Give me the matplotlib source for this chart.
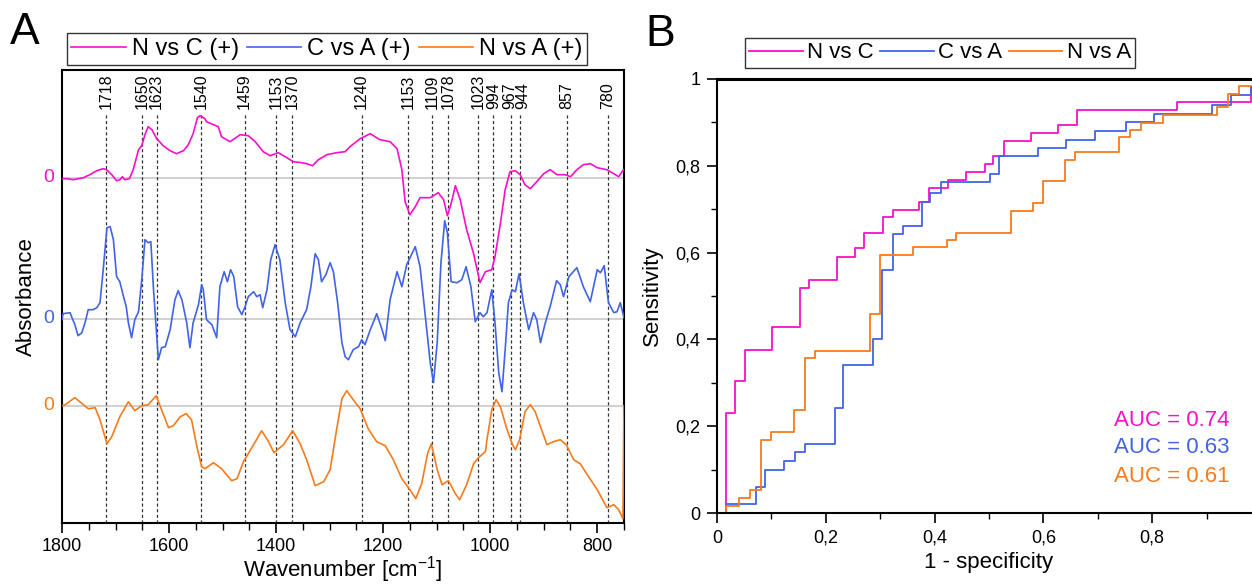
import matplotlib
matplotlib.use('Agg')
import matplotlib.pyplot as plt
import matplotlib.transforms as mtransforms
from matplotlib.ticker import MultipleLocator, FuncFormatter
import numpy as np

plt.rcParams['font.family'] = ['Liberation Sans', 'DejaVu Sans']
plt.rcParams['mathtext.default'] = 'regular'

# barvy
magenta = '#f80fc8'
blue = '#4163e6'
orange = '#f77b1c'

# --- panel A: rozdilova spektra (hodnoty v libovolnych jednotkach) ---
ncWn = [1800, 1791, 1779, 1760, 1748, 1735, 1723, 1717, 1707, 1698, 1692, 1687, 1683, 1674, 1667,
        1657, 1651, 1645, 1639, 1632, 1623, 1611, 1598, 1586, 1573, 1564, 1555, 1547, 1542, 1533,
        1530, 1517, 1508, 1502, 1486, 1467, 1452, 1439, 1424, 1411, 1396, 1383, 1368, 1352, 1343,
        1332, 1321, 1305, 1287, 1271, 1262, 1243, 1224, 1206, 1187, 1174, 1165, 1159, 1150, 1140,
        1131, 1112, 1097, 1087, 1080, 1073, 1065, 1056, 1044, 1031, 1019, 1009, 997, 991, 981,
        972, 963, 953, 944, 935, 925, 913, 900, 888, 875, 860, 850, 838, 826, 813, 800, 782,
        769, 760, 751]
ncVal = [-0.01, -0.01, -0.02, 0.00, 0.03, 0.07, 0.09, 0.08, 0.03, -0.03, -0.02, 0.01, -0.02, -0.01, 0.08,
         0.28, 0.32, 0.43, 0.51, 0.48, 0.39, 0.32, 0.27, 0.24, 0.27, 0.33, 0.44, 0.60, 0.62, 0.59,
         0.56, 0.53, 0.51, 0.41, 0.36, 0.43, 0.42, 0.36, 0.26, 0.22, 0.25, 0.21, 0.16, 0.15, 0.14,
         0.12, 0.18, 0.23, 0.25, 0.26, 0.31, 0.39, 0.44, 0.38, 0.36, 0.29, 0.08, -0.24, -0.37, -0.29,
         -0.20, -0.20, -0.15, -0.22, -0.38, -0.26, -0.08, -0.22, -0.52, -0.76, -1.05, -0.94, -0.92, -0.79, -0.46,
         -0.12, 0.06, 0.07, 0.03, -0.07, -0.11, -0.04, 0.04, 0.08, 0.03, 0.03, 0.01, 0.08, 0.13, 0.14, 0.10, 0.08,
         0.04, 0.01, 0.08]

caWn = [1800, 1798, 1785, 1776, 1770, 1763, 1757, 1751, 1742, 1735, 1729, 1723, 1716, 1710, 1704,
        1698, 1692, 1685, 1680, 1676, 1670, 1664, 1657, 1651, 1645, 1639, 1634, 1629, 1623, 1620,
        1614, 1607, 1598, 1589, 1583, 1576, 1567, 1561, 1555, 1545, 1539, 1536, 1530, 1520, 1511,
        1505, 1497, 1491, 1485, 1479, 1472, 1464, 1458, 1452, 1442, 1436, 1430, 1425, 1417, 1410,
        1402, 1393, 1383, 1374, 1364, 1355, 1343, 1335, 1327, 1321, 1315, 1307, 1299, 1293, 1285,
        1277, 1271, 1265, 1256, 1246, 1240, 1234, 1224, 1212, 1202, 1196, 1187, 1174, 1165, 1156,
        1140, 1131, 1121, 1112, 1106, 1099, 1092, 1085, 1080, 1073, 1062, 1053, 1045, 1036, 1028,
        1019, 1013, 1006, 997, 991, 984, 978, 972, 966, 959, 953, 946, 938, 928, 919,
        913, 906, 897, 888, 876, 869, 863, 853, 838, 826, 813, 800, 794, 787, 779,
        769, 763, 757, 750]
caVal = [-0.01, 0.05, 0.06, -0.06, -0.17, -0.14, -0.04, 0.09, 0.09, 0.11, 0.16, 0.49, 0.91, 0.92, 0.79,
         0.42, 0.37, 0.22, 0.12, -0.04, -0.19, -0.01, 0.07, 0.39, 0.79, 0.76, 0.77, 0.29, -0.18, -0.41,
         -0.29, -0.28, -0.11, 0.19, 0.28, 0.19, -0.04, -0.29, -0.04, 0.14, 0.34, 0.29, -0.01, -0.06, -0.19,
         0.32, 0.47, 0.37, 0.49, 0.42, 0.12, 0.04, 0.12, 0.22, 0.27, 0.22, 0.24, 0.11, 0.29, 0.59,
         0.74, 0.59, 0.16, -0.11, -0.18, -0.04, 0.09, 0.32, 0.65, 0.59, 0.37, 0.44, 0.56, 0.47, 0.16,
         -0.24, -0.38, -0.41, -0.31, -0.28, -0.21, -0.26, -0.11, 0.05, -0.11, -0.22, 0.19, 0.47, 0.32, 0.54,
         0.72, 0.52, 0.02, -0.44, -0.64, -0.24, 0.56, 0.98, 0.86, 0.37, 0.36, 0.39, 0.52, 0.32, -0.03,
         0.06, 0.02, 0.06, 0.29, -0.04, -0.54, -0.73, -0.31, 0.16, 0.29, 0.27, 0.45, 0.16, -0.11, 0.06,
         -0.01, -0.24, -0.04, 0.12, 0.38, 0.34, 0.22, 0.42, 0.51, 0.32, 0.17, 0.49, 0.46, 0.53, 0.16,
         0.06, 0.07, 0.16, 0.01]

naWn = [1800, 1794, 1776, 1760, 1751, 1738, 1729, 1716, 1707, 1692, 1676, 1664, 1651, 1639, 1624,
        1614, 1601, 1592, 1579, 1568, 1558, 1548, 1539, 1533, 1517, 1502, 1483, 1473, 1461, 1442,
        1427, 1414, 1404, 1386, 1369, 1355, 1343, 1327, 1311, 1299, 1287, 1277, 1268, 1256, 1243,
        1228, 1212, 1196, 1181, 1165, 1150, 1139, 1128, 1117, 1110, 1099, 1090, 1078, 1065, 1057,
        1044, 1031, 1022, 1009, 1006, 997, 989, 981, 969, 959, 953, 945, 935, 925, 916,
        904, 894, 882, 869, 858, 844, 832, 816, 800, 782, 769, 760, 752, 750]
naVal = [0.00, 0.01, 0.08, 0.01, -0.03, -0.02, -0.14, -0.38, -0.31, -0.11, 0.04, -0.05, 0.00, 0.01, 0.10,
         -0.04, -0.22, -0.20, -0.11, -0.08, -0.14, -0.41, -0.61, -0.63, -0.57, -0.63, -0.75, -0.73, -0.56, -0.39,
         -0.25, -0.36, -0.47, -0.39, -0.25, -0.38, -0.54, -0.80, -0.76, -0.64, -0.24, 0.07, 0.15, 0.06, -0.03,
         -0.23, -0.36, -0.40, -0.54, -0.73, -0.84, -0.93, -0.78, -0.48, -0.38, -0.64, -0.79, -0.75, -0.88, -0.94,
         -0.79, -0.58, -0.52, -0.46, -0.34, -0.04, 0.06, -0.01, -0.23, -0.38, -0.44, -0.34, -0.06, 0.01, -0.06,
         -0.24, -0.39, -0.36, -0.34, -0.39, -0.54, -0.58, -0.71, -0.84, -1.02, -0.99, -1.04, -1.13, 0.00]

spectraNames = ['N vs C (+)', 'C vs A (+)', 'N vs A (+)']
spectraOffsets = [0.0, -1.41, -2.28]

# carkovane cary: pozice car, pozice popisku a popisky (druha "1153" je v obrazku u 1400)
bandPos = [1718, 1650, 1623, 1540, 1459, 1400, 1370, 1240, 1153, 1109, 1078, 1023, 994, 962, 945, 857, 780]
bandTextPos = [1718, 1650, 1623, 1540, 1459, 1400, 1370, 1240, 1153, 1109, 1078, 1023, 994, 964, 940, 857, 780]
bandLabels = ['1718', '1650', '1623', '1540', '1459', '1153', '1370', '1240', '1153', '1109', '1078',
              '1023', '994', '967', '944', '857', '780']

# --- panel B: ROC krivky ---
rocNames = ['N vs C', 'C vs A', 'N vs A']
ncFpr = [0.017, 0.017, 0.033, 0.052, 0.102, 0.153, 0.169, 0.221, 0.254, 0.270, 0.306, 0.323, 0.372,
         0.389, 0.424, 0.457, 0.492, 0.508, 0.527, 0.577, 0.627, 0.661, 0.845, 0.982, 1.0]
ncTpr = [0.0, 0.231, 0.304, 0.375, 0.429, 0.518, 0.538, 0.590, 0.610, 0.645, 0.681, 0.698, 0.717,
         0.748, 0.768, 0.786, 0.805, 0.823, 0.858, 0.875, 0.893, 0.929, 0.946, 0.982, 1.0]
caFpr = [0.017, 0.017, 0.072, 0.088, 0.124, 0.144, 0.161, 0.216, 0.232, 0.286, 0.304, 0.323, 0.341,
         0.376, 0.392, 0.411, 0.501, 0.518, 0.590, 0.641, 0.694, 0.752, 0.803, 0.910, 0.945, 0.982, 1.0]
caTpr = [0.0, 0.021, 0.060, 0.100, 0.119, 0.141, 0.160, 0.241, 0.341, 0.400, 0.560, 0.642, 0.662,
         0.717, 0.738, 0.762, 0.781, 0.822, 0.841, 0.859, 0.881, 0.900, 0.919, 0.941, 0.962, 0.982, 1.0]
naFpr = [0.017, 0.017, 0.040, 0.061, 0.080, 0.099, 0.141, 0.162, 0.180, 0.281, 0.300, 0.360, 0.422,
         0.440, 0.540, 0.580, 0.600, 0.639, 0.659, 0.739, 0.759, 0.779, 0.820, 0.919, 0.940, 0.960, 1.0]
naTpr = [0.0, 0.017, 0.035, 0.052, 0.169, 0.187, 0.237, 0.358, 0.373, 0.458, 0.594, 0.612, 0.629,
         0.646, 0.696, 0.714, 0.764, 0.814, 0.831, 0.866, 0.883, 0.898, 0.918, 0.935, 0.966, 0.983, 1.0]
aucValues = [0.74, 0.63, 0.61]

colors = [magenta, blue, orange]

fig = plt.figure(figsize=(12.52, 5.85), dpi=100)

# ================= panel A =================
axA = fig.add_axes([62 / 1252, 62 / 585, 562 / 1252, 453 / 585])
spectra = [(ncWn, ncVal), (caWn, caVal), (naWn, naVal)]
specLines = []
for (wn, val), off, col, name in zip(spectra, spectraOffsets, colors, spectraNames):
    axA.axhline(off, color='#c8c8c8', lw=1.2, zorder=1)
    ln, = axA.plot(wn, np.array(val) + off, color=col, lw=1.2, label=name, zorder=3)
    specLines.append(ln)

for pos in bandPos:
    axA.axvline(pos, ymin=0, ymax=0.905, color='#333333', ls=(0, (2.5, 2)), lw=0.9, zorder=2)
trans = mtransforms.blended_transform_factory(axA.transData, axA.transAxes)
for pos, lab in zip(bandTextPos, bandLabels):
    axA.text(pos, 0.914, lab, transform=trans, rotation=90, ha='center', va='bottom', fontsize=11.5)

transY = mtransforms.blended_transform_factory(axA.transAxes, axA.transData)
for off, col in zip(spectraOffsets, colors):
    axA.text(-0.024, off, '0', transform=transY, ha='center', va='center', color=col, fontsize=14)

axA.set_xlim(1800, 750)
axA.set_ylim(-3.453, 1.077)
axA.xaxis.set_major_locator(MultipleLocator(200))
axA.xaxis.set_minor_locator(MultipleLocator(50))
axA.set_yticks([])
axA.tick_params(axis='x', which='major', direction='out', length=7, width=1.2, labelsize=13, top=False)
axA.tick_params(axis='x', which='minor', direction='out', length=5, width=1.0, top=False)
for sp in axA.spines.values():
    sp.set_linewidth(1.5)
axA.set_xlabel(r'Wavenumber [cm$^{-1}$]', fontsize=16)
axA.xaxis.set_label_coords(0.5, -0.068)
axA.set_ylabel('Absorbance', fontsize=16)
axA.yaxis.set_label_coords(-0.045, 0.5)

legA = fig.legend(handles=specLines, loc='center', bbox_to_anchor=(327 / 1252, 1 - 49 / 585), ncol=3,
                  fontsize=17, frameon=True, fancybox=False, edgecolor='black', handlelength=2.3,
                  handletextpad=0.25, columnspacing=0.35, borderpad=0.2, borderaxespad=0)
legA.get_frame().set_linewidth(1.0)

fig.text(10 / 1252, 1 - 12 / 585, 'A', fontsize=32, va='top', ha='left')

# ================= panel B =================
axB = fig.add_axes([717 / 1252, 72 / 585, 544 / 1252, 434 / 585])
rocData = [(ncFpr, ncTpr), (caFpr, caTpr), (naFpr, naTpr)]
for (fpr, tpr), col, name in zip(rocData, colors, rocNames):
    axB.plot(fpr, tpr, drawstyle='steps-post', color=col, lw=1.3, label=name)

aucY = [0.214, 0.150, 0.085]
for auc, col, yy in zip(aucValues, colors, aucY):
    axB.text(0.943, yy, f'AUC = {auc:.2f}', color=col, fontsize=16, ha='right', va='center')

axB.set_xlim(0, 1)
axB.set_ylim(0, 1)
axB.xaxis.set_major_locator(MultipleLocator(0.2))
axB.xaxis.set_minor_locator(MultipleLocator(0.1))
axB.yaxis.set_major_locator(MultipleLocator(0.2))
axB.yaxis.set_minor_locator(MultipleLocator(0.1))


def commaFmt(v, pos):
    if abs(v) < 1e-9:
        return '0'
    if abs(v - 1) < 1e-9:
        return '1'
    return f'{v:.1f}'.replace('.', ',')


axB.xaxis.set_major_formatter(FuncFormatter(commaFmt))
axB.yaxis.set_major_formatter(FuncFormatter(commaFmt))
axB.tick_params(which='major', direction='out', length=7, width=1.2, labelsize=13, pad=5)
axB.tick_params(which='minor', direction='out', length=4, width=1.0)
for sp in ['left', 'bottom', 'right']:
    axB.spines[sp].set_linewidth(1.5)
axB.spines['top'].set_linewidth(2.2)
axB.set_xlabel('1 - specificity', fontsize=16)
axB.xaxis.set_label_coords(0.5, -0.09)
axB.set_ylabel('Sensitivity', fontsize=16)
axB.yaxis.set_label_coords(-0.1, 0.5)

legB = fig.legend(handles=axB.get_lines(), loc='center', bbox_to_anchor=(940 / 1252, 1 - 53 / 585), ncol=3,
                  fontsize=16, frameon=True, fancybox=False, edgecolor='black', handlelength=2.4,
                  handletextpad=0.2, columnspacing=0.3, borderpad=0.2, borderaxespad=0)
legB.get_frame().set_linewidth(1.0)

fig.text(645 / 1252, 1 - 14 / 585, 'B', fontsize=32, va='top', ha='left')

fig.savefig('out.png', dpi=100)
